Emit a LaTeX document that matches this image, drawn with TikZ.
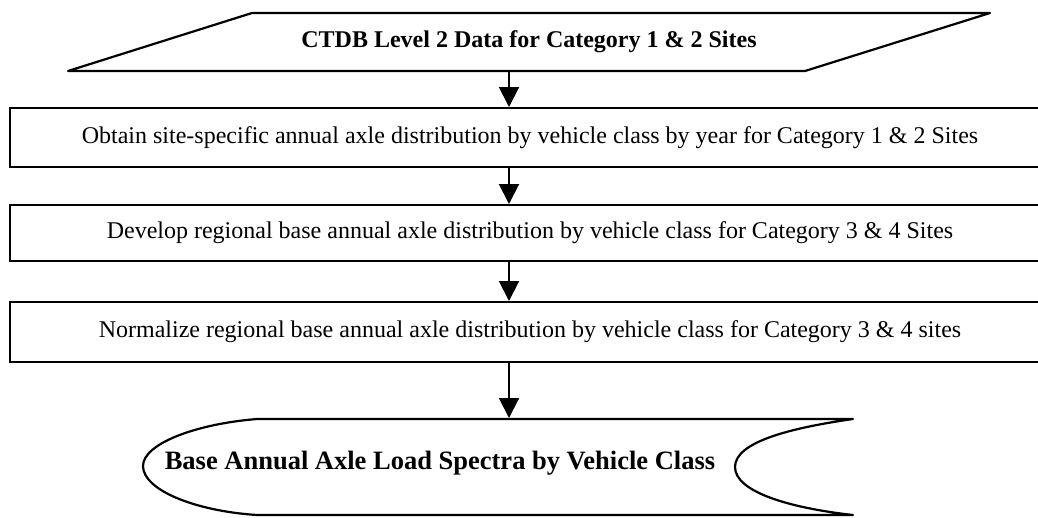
\documentclass[tikz,border=0pt]{standalone}
\usepackage{fontspec}
\setmainfont{Liberation Serif}
\usetikzlibrary{arrows.meta}
\begin{document}
\begin{tikzpicture}[x=1pt,y=-1pt,line width=2pt,
  stepbox/.style={draw, rectangle, inner sep=0pt, minimum width=1040pt, font=\fontsize{24}{28}\selectfont},
  flow/.style={-{Triangle[width=20pt,length=20pt]}, line width=2pt},
  shapeline/.style={line width=2.2pt, line join=round}]
\useasboundingbox (0,0) rectangle (1038,517);
\clip (0,0) rectangle (1038,517);
\coordinate (ax) at (509,0);
% input parallelogram
\draw[shapeline] (252,13) -- (990,13) -- (805,71) -- (68,71) -- cycle;
\node[inner sep=0pt, minimum width=600pt, minimum height=58pt, font=\fontsize{24}{28}\selectfont\bfseries] (title) at (529,42) {CTDB Level 2 Data for Category 1 \& 2 Sites};
% process boxes
\node[stepbox, minimum height=59pt] (b1) at (530,137.5) {Obtain site-specific annual axle distribution by vehicle class by year for Category 1 \& 2 Sites};
\node[stepbox, minimum height=56pt] (b2) at (530,233) {Develop regional base annual axle distribution by vehicle class for Category 3 \& 4 Sites};
\node[stepbox, minimum height=60pt] (b3) at (530,332) {Normalize regional base annual axle distribution by vehicle class for Category 3 \& 4 sites};
% stored data output
\draw[shapeline] (257,419) -- (853,419)
  .. controls (790,428) and (735,442) .. (735,467)
  .. controls (735,492) and (790,508) .. (853,515)
  -- (257,515)
  .. controls (195,511) and (143,490) .. (143,466)
  .. controls (143,444) and (195,424) .. (257,419) -- cycle;
\node[inner sep=0pt, minimum width=710pt, minimum height=96pt] (store) at (498,467) {};
\node[inner sep=0pt, font=\fontsize{26.5}{30}\selectfont\bfseries] (out) at (440,463) {Base Annual Axle Load Spectra by Vehicle Class};
% connectors
\draw[flow] (title.south -| ax) -- (b1.north -| ax);
\draw[flow] (b1.south -| ax) -- (b2.north -| ax);
\draw[flow] (b2.south -| ax) -- (b3.north -| ax);
\draw[flow] (b3.south -| ax) -- (store.north -| ax);
\end{tikzpicture}
\end{document}
